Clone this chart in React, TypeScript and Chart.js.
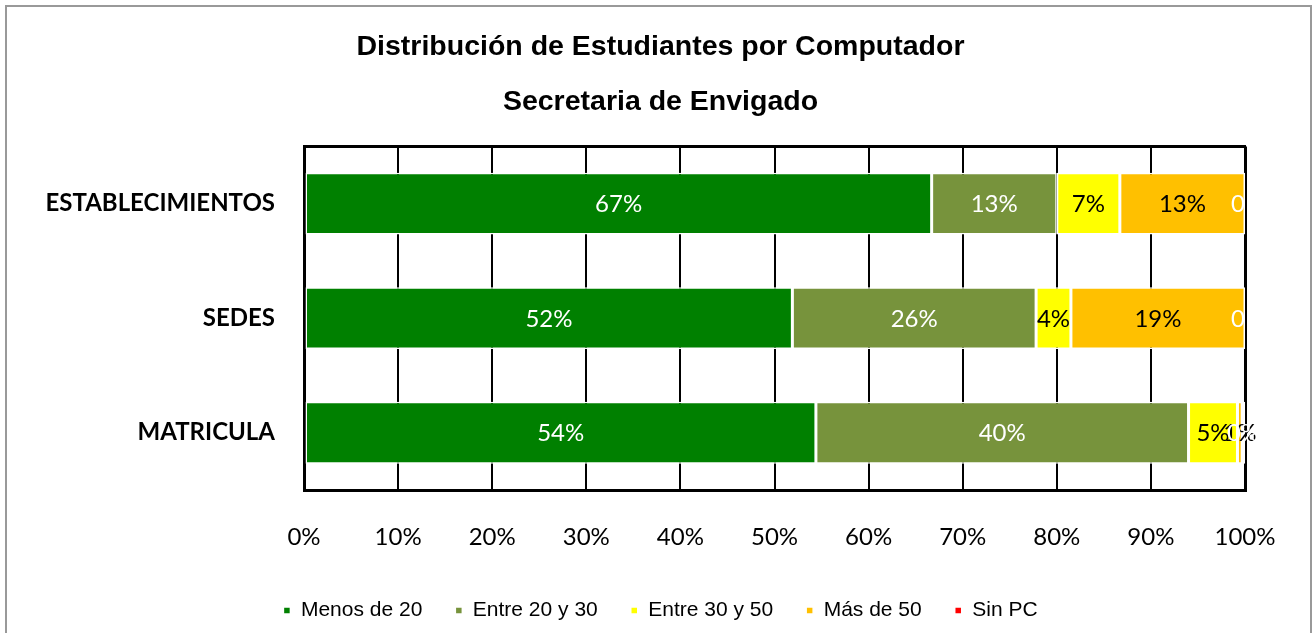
import { useEffect, useRef } from 'react';
import { Chart, registerables } from 'chart.js';

Chart.register(...registerables);

const categories = ['ESTABLECIMIENTOS', 'SEDES', 'MATRICULA'];
const seriesNames = ['Menos de 20', 'Entre 20 y 30', 'Entre 30 y 50', 'Más de 50', 'Sin PC'];
const menosDe20 = [66.7, 51.9, 54.4];
const entre20y30 = [13.3, 25.9, 39.6];
const entre30y50 = [6.7, 3.7, 5.2];
const masDe50 = [13.3, 18.5, 0.5];
const sinPC = [0, 0, 0.3];
const seriesColors = ['#008000', '#77933C', '#FFFF00', '#FFC000', '#FF0000'];
const labelColors = ['#FFFFFF', '#FFFFFF', '#000000', '#000000', '#FFFFFF'];
const titleText = 'Distribución de Estudiantes por Computador';
const subtitleText = 'Secretaria de Envigado';

const segLabels = {
  id: 'segLabels',
  afterDatasetsDraw(chart: any) {
    const ctx = chart.ctx;
    ctx.save();
    ctx.font = '24px Lato';
    ctx.textBaseline = 'middle';
    chart.data.datasets.forEach((ds: any, di: number) => {
      const meta = chart.getDatasetMeta(di);
      meta.data.forEach((el: any, i: number) => {
        const v = ds.data[i];
        const p = el.getProps(['x', 'base', 'y'], true);
        const txt = v === 0 ? '0' : Math.round(v) + '%';
        ctx.fillStyle = labelColors[di];
        if (Math.abs(p.x - p.base) < 1) {
          ctx.textAlign = 'right';
          ctx.fillText(txt, p.x, p.y + 1);
        } else {
          ctx.textAlign = 'center';
          ctx.fillText(txt, (p.x + p.base) / 2, p.y + 1);
        }
      });
    });
    ctx.restore();
  },
};

const frameLines = {
  id: 'frameLines',
  beforeDatasetsDraw(chart: any) {
    const { ctx, chartArea } = chart;
    ctx.save();
    ctx.strokeStyle = '#000';
    ctx.lineWidth = 3;
    ctx.beginPath();
    ctx.moveTo(chartArea.left - 1, chartArea.top);
    ctx.lineTo(chartArea.right + 1, chartArea.top);
    ctx.stroke();
    ctx.restore();
  },
};

export default function App() {
  const ref = useRef<HTMLCanvasElement>(null);
  useEffect(() => {
    if (!ref.current) return;
    const series = [menosDe20, entre20y30, entre30y50, masDe50, sinPC];
    const chart = new Chart(ref.current, {
      type: 'bar',
      data: {
        labels: categories,
        datasets: series.map((d, i) => ({
          label: seriesNames[i],
          data: d,
          backgroundColor: seriesColors[i],
          borderColor: '#FFFFFF',
          borderWidth: 1.5,
          borderSkipped: false,
          categoryPercentage: 1,
          barPercentage: 0.54,
        })),
      },
      options: {
        indexAxis: 'y',
        animation: false,
        responsive: false,
        layout: { padding: { left: 8, right: 0, top: 0, bottom: 2 } },
        scales: {
          x: {
            stacked: true,
            min: 0,
            max: 100,
            ticks: {
              stepSize: 10,
              callback: (v: any) => v + '%',
              font: { family: 'Lato', size: 24 },
              color: '#000',
              padding: 33,
            },
            grid: {
              color: '#000',
              lineWidth: (c: any) => (c.tick && (c.tick.value === 100 || c.tick.value === 0) ? 3 : 2),
              drawTicks: false,
            },
            border: { display: true, color: '#000', width: 3 },
            afterFit: (s: any) => {
              s.height = 77;
            },
          },
          y: {
            stacked: true,
            grid: { display: false, drawTicks: false },
            border: { display: false },
            ticks: {
              font: { family: 'Lato', size: 24, weight: 'bold' },
              color: '#000',
              padding: 29,
            },
            afterFit: (s: any) => {
              s.width = 296;
            },
          },
          yRight: {
            type: 'category',
            position: 'right',
            grid: { display: false, drawTicks: false },
            border: { display: false },
            ticks: { display: false },
            afterFit: (s: any) => {
              s.width = 68;
            },
          },
        },
        plugins: {
          title: {
            display: true,
            text: titleText,
            color: '#000',
            font: { family: 'Liberation Sans', size: 28.5, weight: 'bold' },
            padding: { top: 30, bottom: 0 },
          },
          subtitle: {
            display: true,
            text: subtitleText,
            color: '#000',
            font: { family: 'Liberation Sans', size: 28.5, weight: 'bold' },
            padding: { top: 21, bottom: 27 },
          },
          legend: {
            position: 'bottom',
            labels: {
              boxWidth: 7,
              boxHeight: 7,
              padding: 33,
              color: '#000',
              font: { family: 'Liberation Sans', size: 21 },
            },
          },
          tooltip: { enabled: false },
        },
      },
      plugins: [segLabels, frameLines],
    } as any);
    return () => chart.destroy();
  }, []);
  return (
    <div style={{ position: 'fixed', left: 0, top: 0, width: 1313, height: 633, overflow: 'hidden', background: '#fff' }}>
      <canvas ref={ref} width={1313} height={633} style={{ position: 'absolute', left: 0, top: 0 }} />
      <div
        style={{
          position: 'absolute',
          left: 5,
          top: 5,
          width: 1303,
          height: 660,
          border: '2px solid #999',
          pointerEvents: 'none',
        }}
      />
    </div>
  );
}
